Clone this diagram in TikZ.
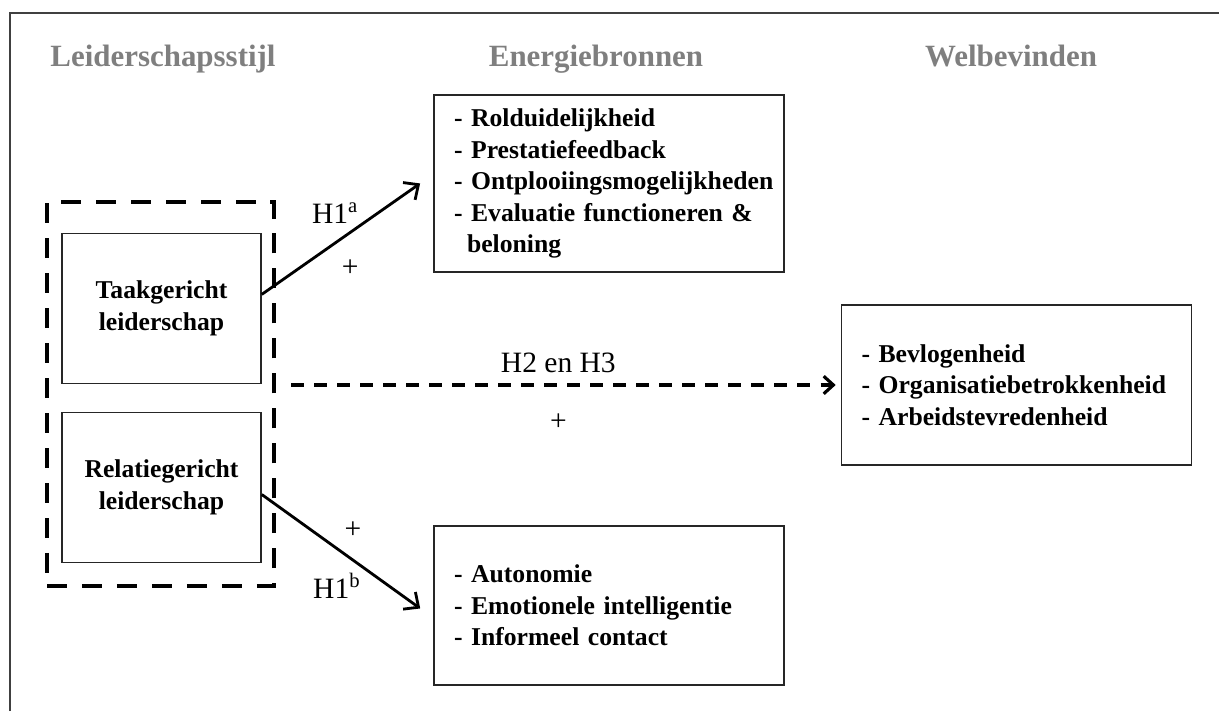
\documentclass[tikz,border=0pt]{standalone}
\usepackage{fontspec}
\setmainfont{Liberation Serif}
\usetikzlibrary{arrows.meta,positioning}
\definecolor{kopgrijs}{RGB}{127,127,127}
\tikzset{
    kop/.style={
           anchor=base,
           text=kopgrijs,
           font=\fontsize{17.6}{21}\selectfont\bfseries
           },
    stijl/.style={
           rectangle,
           draw=black!85, line width=0.9pt,
           minimum width=3.98cm,
           minimum height=3cm,
           align=center,
           font=\fontsize{14.6}{18.5}\selectfont\bfseries
           },
    bron/.style={
           rectangle,
           draw=black!85, line width=0.9pt,
           text width=6.2cm,
           inner xsep=0.4cm,
           align=left,
           font=\fontsize{14.6}{17.9}\selectfont\bfseries
           },
    groep/.style={
           rectangle,
           draw, line width=2.3pt,
           dash pattern=on 11.4pt off 8.5pt,
           minimum width=4.54cm,
           minimum height=7.68cm
           },
    hyp/.style={
           % font=\large,
           font=\fontsize{16.8}{20}\selectfont
           }
}
\begin{document}
\begin{tikzpicture}[>={Straight Barb[length=6.5pt,width=12pt]}, node distance=3.58cm, on grid]
\useasboundingbox (0,0) rectangle (24.38,14.22);
% kader
\draw[black!75, line width=0.9pt] (0.2,0) -- (0.2,13.96) -- (24.38,13.96);

   \node[kop]   (k1) at (3.26,12.88)  {Leiderschapsstijl};
   \node[kop]   (k2) at (11.92,12.88) {Energiebronnen};
   \node[kop]   (k3) at (20.22,12.88) {Welbevinden};

   \node[groep] (groep) at (3.21,6.34) {};
   \node[stijl] (taak) at (3.23,8.05) {Taakgericht\\leiderschap};
   \node[stijl] (relatie) [below of=taak] {Relatiegericht\\leiderschap};

   \node[bron, minimum height=3.54cm] (en1) at (12.18,10.55)
        {- Rolduidelijkheid\\- Prestatiefeedback\\\mbox{- Ontplooiingsmogelijkheden}\\- Evaluatie functioneren \&\\\hspace*{0.26cm}beloning};
   \node[bron, minimum height=3.18cm] (en2) [below=8.44cm of en1]
        {- Autonomie\\- Emotionele intelligentie\\- Informeel contact};
   \node[bron, minimum height=3.2cm] (wel) at (20.33,6.52)
        {- Bevlogenheid\\\mbox{- Organisatiebetrokkenheid}\\- Arbeidstevredenheid};

   \path[->, line width=1.6pt, shorten >=0.32cm]
    (taak.8) edge node[hyp, pos=0.51, shift={(-0.28,0.40)}] (h1a) {H1\textsuperscript{a}}
                  node[hyp, pos=0.42, shift={(0.33,-0.48)}] (p1) {+} (en1.177)
    (relatie.-4) edge node[hyp, pos=0.45, shift={(0.28,0.40)}] (p2) {+}
                      node[hyp, pos=0.54, shift={(-0.35,-0.50)}] (h1b) {H1\textsuperscript{b}} (en2.184)
    ;
   \draw[->, line width=1.8pt, dash pattern=on 7.4pt off 5.7pt,
         >={Straight Barb[length=5.5pt,width=10pt]}, shorten <=0.3cm, shorten >=0.1cm]
    (groep.east |- wel.west) -- (wel.west)
      node[hyp, midway, yshift=0.44cm] (h23) {H2 en H3}
      node[hyp, midway, yshift=-0.74cm] (p3) {+};
\end{tikzpicture}
\end{document}
